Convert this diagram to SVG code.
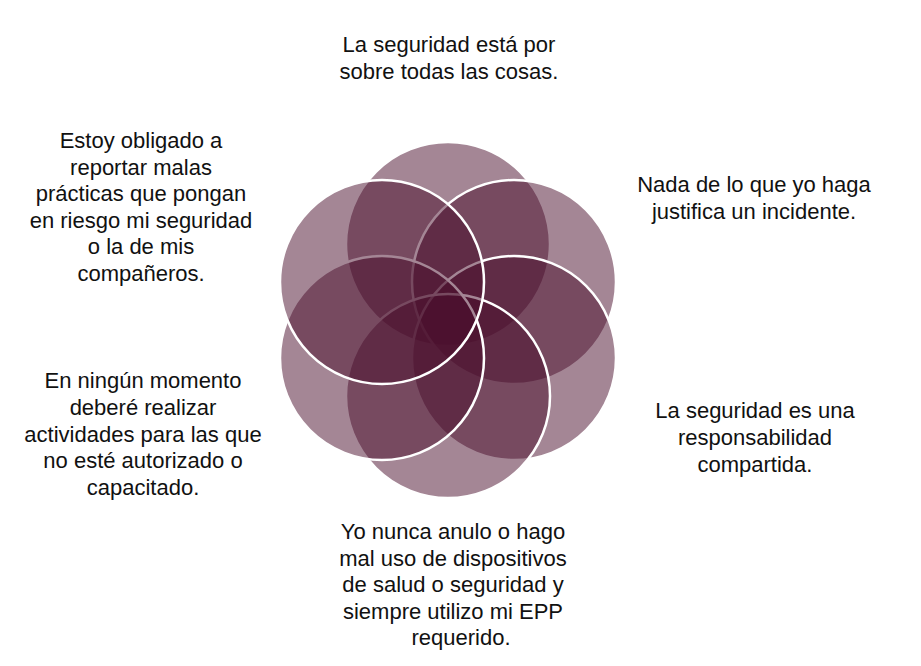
<svg xmlns="http://www.w3.org/2000/svg" width="921" height="666" viewBox="0 0 921 666">
<style>
.c{fill:#4a0e2c;fill-opacity:0.5;stroke:#ffffff;stroke-width:2.5}
.t{font-family:"Liberation Sans",Arial,sans-serif;font-size:22px;fill:#111111;text-anchor:middle}
</style>
<rect width="921" height="666" fill="#ffffff"/>
<g id="circles">
<g id="c-top"><circle class="c" cx="448" cy="244" r="102"/></g>
<g id="c-topright"><circle class="c" cx="514" cy="282" r="102"/></g>
<g id="c-bottomright"><circle class="c" cx="514" cy="358" r="102"/></g>
<g id="c-bottom"><circle class="c" cx="448" cy="396" r="102"/></g>
<g id="c-bottomleft"><circle class="c" cx="382" cy="358" r="102"/></g>
<g id="c-topleft"><circle class="c" cx="382" cy="282" r="102"/></g>
</g>
<g id="connectors"></g>
<g id="label-top">
<text class="t" x="449" y="52">La seguridad está por</text>
<text class="t" x="449" y="79">sobre todas las cosas.</text>
</g>
<g id="label-topright">
<text class="t" x="754" y="192">Nada de lo que yo haga</text>
<text class="t" x="754" y="218.5">justifica un incidente.</text>
</g>
<g id="label-right">
<text class="t" x="755" y="418">La seguridad es una</text>
<text class="t" x="755" y="445">responsabilidad</text>
<text class="t" x="755" y="472">compartida.</text>
</g>
<g id="label-bottom">
<text class="t" x="453" y="539">Yo nunca anulo o hago</text>
<text class="t" x="453" y="565.5">mal uso de dispositivos</text>
<text class="t" x="453" y="592">de salud o seguridad y</text>
<text class="t" x="453" y="618.5">siempre utilizo mi EPP</text>
<text class="t" x="461" y="645">requerido.</text>
</g>
<g id="label-bottomleft">
<text class="t" x="143" y="388">En ningún momento</text>
<text class="t" x="143" y="415">deberé realizar</text>
<text class="t" x="143" y="441.5">actividades para las que</text>
<text class="t" x="143" y="468">no esté autorizado o</text>
<text class="t" x="143" y="495">capacitado.</text>
</g>
<g id="label-topleft">
<text class="t" x="141" y="148">Estoy obligado a</text>
<text class="t" x="141" y="174.5">reportar malas</text>
<text class="t" x="141" y="201">prácticas que pongan</text>
<text class="t" x="141" y="227.5">en riesgo mi seguridad</text>
<text class="t" x="141" y="254">o la de mis</text>
<text class="t" x="141" y="280.5">compañeros.</text>
</g>
</svg>
